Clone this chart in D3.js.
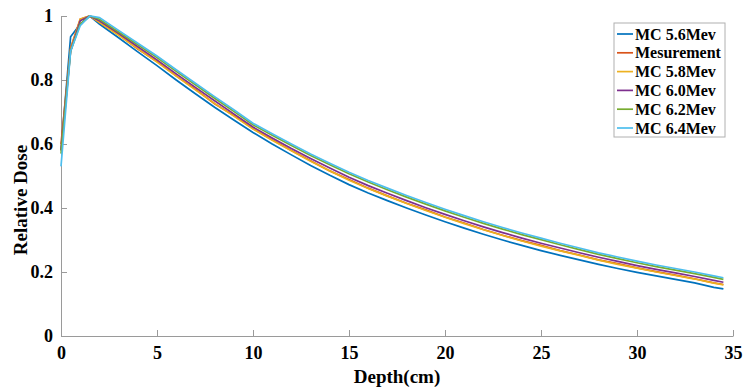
<!DOCTYPE html>
<html>
<head>
<meta charset="utf-8">
<script src="https://cdn.jsdelivr.net/npm/d3@7"></script>
<style>
  body { margin: 0; background: #fff; }
  svg text { font-family: "Liberation Serif", "Times New Roman", serif; font-weight: bold; fill: #000; }
  .axis path, .axis line { stroke: #9a9a9a; }
</style>
</head>
<body>
<div id="chart"></div>
<script>
// depth in cm
var depth = [0, 0.5, 1, 1.5, 2, 3, 4, 5, 6, 7, 8, 9, 10, 11, 12, 13, 14, 15, 16, 17, 18, 19, 20,
  21, 22, 23, 24, 25, 26, 27, 28, 29, 30, 31, 32, 33, 34, 34.5];

var mc56 = [0.58, 0.935, 0.975, 1, 0.975, 0.932, 0.888, 0.845, 0.80, 0.757, 0.715, 0.675, 0.636,
  0.60, 0.566, 0.533, 0.502, 0.473, 0.447, 0.423, 0.40, 0.378, 0.357, 0.337, 0.318, 0.30, 0.283,
  0.267, 0.252, 0.238, 0.224, 0.211, 0.199, 0.188, 0.177, 0.166, 0.152, 0.147];
var measurement = [0.60, 0.90, 0.99, 1, 0.98, 0.942, 0.897, 0.858, 0.813, 0.771, 0.726, 0.689, 0.648,
  0.613, 0.58, 0.548, 0.516, 0.489, 0.462, 0.438, 0.415, 0.394, 0.372, 0.353, 0.333, 0.315, 0.298,
  0.283, 0.267, 0.253, 0.238, 0.226, 0.213, 0.201, 0.190, 0.179, 0.166, 0.161];
var mc58 = [0.58, 0.895, 0.99, 1, 0.98, 0.940, 0.898, 0.856, 0.812, 0.769, 0.727, 0.687, 0.647,
  0.612, 0.579, 0.546, 0.516, 0.487, 0.461, 0.437, 0.414, 0.392, 0.371, 0.351, 0.332, 0.314, 0.297,
  0.281, 0.266, 0.252, 0.237, 0.224, 0.212, 0.200, 0.189, 0.178, 0.165, 0.160];
var mc60 = [0.58, 0.89, 0.985, 1, 0.985, 0.946, 0.904, 0.863, 0.819, 0.777, 0.735, 0.694, 0.653,
  0.619, 0.586, 0.555, 0.525, 0.496, 0.470, 0.446, 0.423, 0.401, 0.380, 0.360, 0.341, 0.323, 0.306,
  0.290, 0.275, 0.260, 0.246, 0.233, 0.220, 0.208, 0.197, 0.186, 0.174, 0.168];
var mc62 = [0.57, 0.89, 0.975, 1, 0.99, 0.95, 0.91, 0.87, 0.827, 0.785, 0.743, 0.702, 0.66,
  0.627, 0.595, 0.564, 0.535, 0.507, 0.481, 0.457, 0.434, 0.412, 0.391, 0.371, 0.352, 0.334, 0.317,
  0.301, 0.285, 0.27, 0.255, 0.242, 0.229, 0.217, 0.206, 0.195, 0.183, 0.177];
var mc64 = [0.53, 0.89, 0.97, 1, 0.995, 0.955, 0.915, 0.875, 0.832, 0.79, 0.748, 0.707, 0.665,
  0.632, 0.60, 0.569, 0.54, 0.512, 0.486, 0.462, 0.439, 0.417, 0.396, 0.376, 0.357, 0.339, 0.322,
  0.306, 0.29, 0.275, 0.26, 0.247, 0.234, 0.222, 0.211, 0.2, 0.188, 0.182];

var seriesNames = ["MC 5.6Mev", "Mesurement", "MC 5.8Mev", "MC 6.0Mev", "MC 6.2Mev", "MC 6.4Mev"];
var seriesValues = [mc56, measurement, mc58, mc60, mc62, mc64];
var colors = ["#0072BD", "#D95319", "#EDB120", "#7E2F8E", "#77AC30", "#4DBEEE"];

var xTicks = [0, 5, 10, 15, 20, 25, 30, 35];
var yTicks = [0, 0.2, 0.4, 0.6, 0.8, 1];

var margin = { top: 16, right: 13, bottom: 51, left: 61 };
var width = 746 - margin.left - margin.right,
  height = 387 - margin.top - margin.bottom;

var svg = d3.select("#chart").append("svg")
  .attr("width", 746)
  .attr("height", 387)
  .append("g")
  .attr("transform", "translate(" + margin.left + "," + margin.top + ")");

var x = d3.scaleLinear().domain([0, 35]).range([0, width]);
var y = d3.scaleLinear().domain([0, 1]).range([height, 0]);

// axes
var xAxis = d3.axisBottom(x).tickValues(xTicks).tickFormat(d3.format("d"))
  .tickSizeInner(-6).tickSizeOuter(0).tickPadding(10);
var yAxis = d3.axisLeft(y).tickValues(yTicks).tickFormat(function (d) { return d === 0 || d === 1 ? d : d.toFixed(1); })
  .tickSizeInner(-6).tickSizeOuter(0).tickPadding(8);

svg.append("g").attr("class", "x-axis axis")
  .attr("transform", "translate(0," + height + ")")
  .call(xAxis)
  .selectAll("text").style("font-size", "18px");

svg.append("g").attr("class", "y-axis axis")
  .call(yAxis)
  .selectAll("text").style("font-size", "18px");

svg.selectAll(".axis text").attr("fill", "#000");

// lines
var line = d3.line()
  .x(function (d) { return x(d[0]); })
  .y(function (d) { return y(d[1]); });

seriesValues.forEach(function (vals, i) {
  svg.append("path")
    .datum(depth.map(function (dd, j) { return [dd, vals[j]]; }))
    .attr("fill", "none")
    .attr("stroke", colors[i])
    .attr("stroke-width", 1.7)
    .attr("d", line);
});

// axis labels
svg.append("text")
  .attr("text-anchor", "middle")
  .attr("x", width / 2)
  .attr("y", height + 47)
  .style("font-size", "19px")
  .text("Depth(cm)");

svg.append("text")
  .attr("text-anchor", "middle")
  .attr("transform", "translate(" + (27 - margin.left) + "," + (200 - margin.top) + ") rotate(-90)")
  .style("font-size", "19px")
  .text("Relative Dose");

// legend
var legend = d3.select("svg").append("g").attr("transform", "translate(614,23)");
legend.append("rect")
  .attr("width", 111).attr("height", 114)
  .attr("fill", "#fff").attr("stroke", "#b0b0b0");

seriesNames.forEach(function (name, i) {
  var ly = 11 + i * 18.8;
  legend.append("line")
    .attr("x1", 3).attr("x2", 19).attr("y1", ly).attr("y2", ly)
    .attr("stroke", colors[i]).attr("stroke-width", 1.7);
  legend.append("text")
    .attr("x", 21).attr("y", ly + 5.5)
    .style("font-size", "16px")
    .text(name);
});
</script>
</body>
</html>
